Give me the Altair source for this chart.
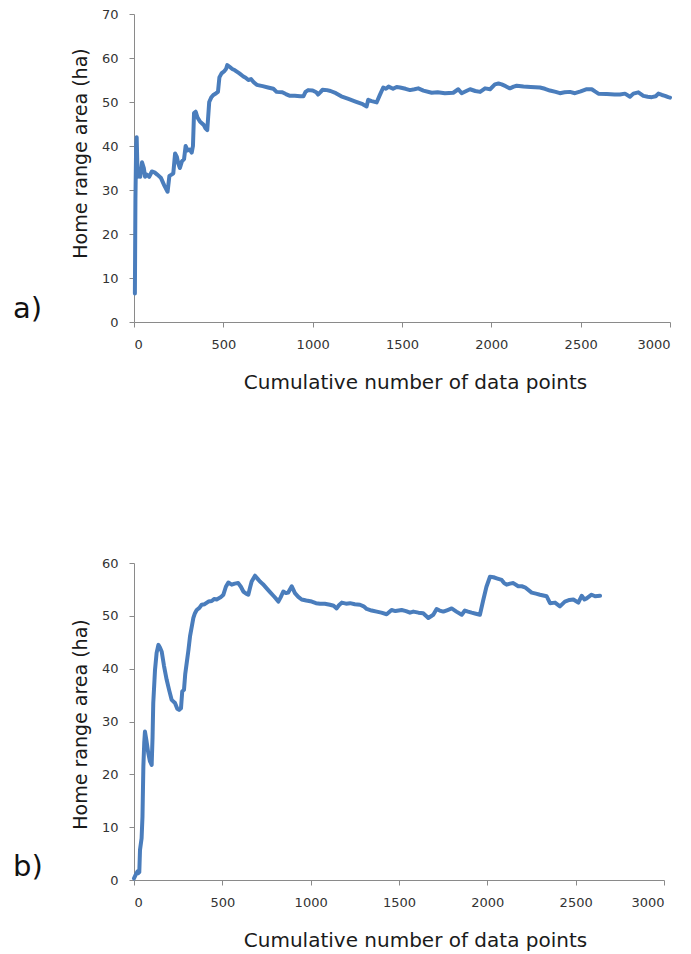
import altair as alt
import pandas as pd

# Panel a: home range area estimate vs. cumulative number of locations
n_a = [5, 8, 12, 15, 18, 20, 28, 35, 45, 55, 62, 72, 85, 100, 115, 130, 150, 170, 188,
       198, 210, 220, 230, 240, 248, 257, 268, 280, 289, 300, 312, 323, 330, 336, 345,
       355, 370, 390, 400, 410, 421, 432, 444, 460, 470, 478, 490, 505, 515, 522, 535,
       550, 565, 590, 612, 625, 640, 655, 670, 687, 720, 750, 780, 798, 830, 850, 873,
       900, 930, 948, 960, 975, 1000, 1020, 1030, 1045, 1055, 1080, 1100, 1130, 1160,
       1200, 1240, 1280, 1302, 1311, 1330, 1358, 1375, 1395, 1410, 1425, 1450, 1470,
       1489, 1520, 1545, 1570, 1591, 1620, 1666, 1700, 1740, 1787, 1815, 1834, 1860,
       1881, 1910, 1937, 1965, 1993, 2020, 2040, 2058, 2080, 2104, 2125, 2142, 2180,
       2220, 2272, 2300, 2328, 2360, 2384, 2410, 2440, 2468, 2500, 2534, 2562, 2580,
       2599, 2646, 2690, 2720, 2748, 2776, 2795, 2823, 2851, 2875, 2898, 2920, 2935,
       2955, 2972, 2990, 3000]
area_a = [6.5, 28, 40, 42, 37, 33, 34.5, 33, 36.3, 35, 33, 33.5, 33, 34.2, 34, 33.5,
          32.8, 31, 29.6, 33.2, 33.5, 33.8, 38.3, 37.5, 36, 35, 36.5, 37, 40, 39, 39.2,
          38.5, 40, 47.5, 47.8, 46.5, 45.5, 44.8, 44, 43.6, 50, 51, 51.6, 52, 52.3, 55.6,
          56.5, 57, 57.5, 58.4, 58, 57.5, 57.2, 56.5, 55.8, 55.5, 55, 55.2, 54.5, 53.9,
          53.6, 53.3, 53, 52.3, 52.2, 51.8, 51.4, 51.4, 51.3, 51.3, 52.3, 52.7, 52.6,
          52.2, 51.7, 52.3, 52.8, 52.7, 52.5, 52, 51.3, 50.7, 50.1, 49.5, 49, 50.5, 50.2,
          49.9, 51.5, 53.3, 53, 53.5, 53, 53.4, 53.3, 53, 52.7, 52.9, 53.1, 52.6, 52.1,
          52.2, 52.0, 52.1, 52.9, 52, 52.5, 52.9, 52.5, 52.3, 53.1, 52.9, 54, 54.2, 54,
          53.6, 53.1, 53.5, 53.7, 53.5, 53.4, 53.3, 53, 52.6, 52.3, 52, 52.2, 52.3, 52,
          52.4, 52.9, 52.9, 52.4, 51.9, 51.8, 51.7, 51.7, 51.9, 51.2, 51.9, 52.2, 51.4,
          51.2, 51.1, 51.3, 51.9, 51.6, 51.4, 51.1, 51.0]

# Panel b
n_b = [0, 10, 19, 24, 30, 34, 43, 48, 53, 58, 62, 70, 81, 90, 100, 105, 109, 119, 128,
       138, 147, 157, 170, 185, 200, 213, 232, 245, 255, 266, 273, 283, 290, 298, 308,
       317, 336, 345, 355, 370, 383, 400, 421, 440, 455, 468, 490, 506, 520, 534, 553,
       570, 590, 605, 619, 635, 647, 656, 666, 685, 700, 713, 730, 751, 770, 789, 805,
       817, 830, 845, 860, 873, 893, 911, 930, 949, 975, 1006, 1030, 1053, 1080, 1109,
       1130, 1147, 1160, 1176, 1200, 1223, 1250, 1279, 1300, 1317, 1345, 1374, 1400,
       1430, 1458, 1480, 1515, 1540, 1562, 1581, 1610, 1637, 1666, 1694, 1713, 1730,
       1751, 1775, 1798, 1825, 1855, 1873, 1891, 1911, 1935, 1958, 1977, 1995, 2015,
       2035, 2053, 2081, 2095, 2109, 2128, 2147, 2175, 2195, 2213, 2251, 2275, 2298,
       2336, 2355, 2383, 2411, 2439, 2465, 2487, 2515, 2534, 2550, 2562, 2590, 2610, 2638]
area_b = [0.3, 1, 1.6, 1.3, 1.5, 5.7, 7.9, 12, 21.5, 26, 28.1, 26.5, 24, 22.5, 21.8, 27,
          33.5, 39.8, 43, 44.5, 44, 43.2, 40.5, 37.9, 35.8, 34.1, 33.5, 32.4, 32.2, 32.5,
          35.7, 36, 39, 41, 43.5, 46.1, 49.6, 50.5, 51.1, 51.5, 52.1, 52.2, 52.7, 52.8,
          53.2, 53.1, 53.5, 54, 55.5, 56.3, 55.9, 56.1, 56.2, 55.5, 54.6, 54.2, 54, 55.2,
          56.5, 57.6, 57, 56.5, 56, 55.2, 54.5, 53.8, 53.2, 52.7, 53.5, 54.6, 54.3, 54.4,
          55.6, 54.3, 53.6, 53.1, 52.9, 52.7, 52.4, 52.3, 52.3, 52.1, 51.9, 51.4, 52,
          52.5, 52.3, 52.4, 52.2, 52.1, 51.8, 51.3, 51, 50.8, 50.6, 50.3, 51.1, 50.9,
          51.1, 50.9, 50.6, 50.8, 50.6, 50.5, 49.6, 50.2, 51.3, 51, 50.8, 51.1, 51.4,
          50.8, 50.2, 51, 50.8, 50.6, 50.4, 50.2, 53, 55.5, 57.4, 57.3, 57.1, 56.8, 56.2,
          55.9, 56.1, 56.2, 55.6, 55.6, 55.4, 54.4, 54.2, 54, 53.7, 52.4, 52.5, 51.8,
          52.7, 53, 53.1, 52.5, 53.8, 53.1, 53.3, 54, 53.7, 53.8]

x_ticks = [0, 500, 1000, 1500, 2000, 2500, 3000]
y_ticks_a = [0, 10, 20, 30, 40, 50, 60, 70]
y_ticks_b = [0, 10, 20, 30, 40, 50, 60]
panel_labels = ["a)", "b)"]

X_TITLE = "Cumulative number of data points"
Y_TITLE = "Home range area (ha)"
LINE_COLOR = "#4a7dbc"


def panel(n, area, y_max, y_ticks, label, width, height, y_title_pos, frame_y):
    df = pd.DataFrame({"n": n, "area": area})
    line = alt.Chart(df).mark_line(
        color=LINE_COLOR, strokeWidth=4, strokeJoin="round", strokeCap="round"
    ).encode(
        x=alt.X("n:Q", scale=alt.Scale(domain=[0, 3000], nice=False),
                axis=alt.Axis(values=x_ticks, format="d", title=X_TITLE,
                              titleX=281, titleY=60, titleFontSize=20,
                              titleBaseline="middle", titleAlign="center")),
        y=alt.Y("area:Q", scale=alt.Scale(domain=[0, y_max], nice=False),
                axis=alt.Axis(values=y_ticks, format="d", title=Y_TITLE, titleX=-54,
                              titleY=y_title_pos, titleFontSize=19,
                              titleBaseline="middle", titleAlign="center",
                              titleAngle=270)),
    )
    tag = alt.Chart(pd.DataFrame({"label": [label]})).mark_text(
        align="left", baseline="middle", font="DejaVu Sans", fontSize=29, color="#111111"
    ).encode(text="label:N", x=alt.value(-121), y=alt.value(height - 13))
    # transparent guide that fixes the page margin around the panels
    frame = alt.Chart(pd.DataFrame({"k": [0]})).mark_rule(
        opacity=0, strokeWidth=1
    ).encode(x=alt.value(-133.5), x2=alt.value(556.5), y=alt.value(frame_y))
    return alt.layer(line, tag, frame).properties(width=width, height=height)


top = panel(n_a, area_a, 70, y_ticks_a, panel_labels[0], 536, 308, 139, -13.5)
bottom = panel(n_b, area_b, 60, y_ticks_b, panel_labels[1], 530, 317, 161, 317 + 73.5)

chart = alt.vconcat(top, bottom, spacing=241, bounds="flush").properties(
    padding=0,
    background="white",
).configure_view(stroke=None).configure_axis(
    grid=False,
    domainColor="#8a8a8a",
    tickColor="#8a8a8a",
    tickSize=5,
    labelFont="DejaVu Sans",
    labelFontSize=13,
    labelColor="#333333",
    labelPadding=11,
    titleFont="DejaVu Sans",
    titleFontWeight="normal",
    titleColor="#1a1a1a",
)

chart.save("out.html", embed_options={"renderer": "svg", "actions": False})
